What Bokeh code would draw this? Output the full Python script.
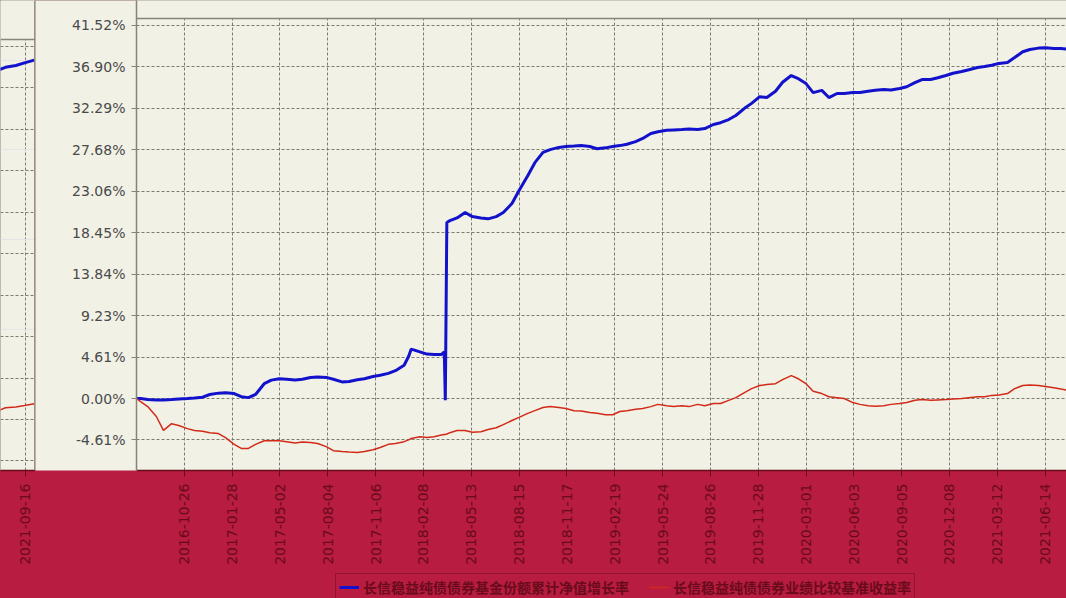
import pandas as pd
from math import pi
from bokeh.plotting import figure
from bokeh.models import (ColumnDataSource, Range1d, FixedTicker, PrintfTickFormatter,
                          DatetimeTickFormatter, Legend, LegendItem, Grid, Span, BoxAnnotation)
from bokeh.layouts import row, column
from bokeh.embed import file_html
from bokeh.resources import INLINE

# ---------------- data ----------------
DATES = [
    "2016-07-24", "2016-08-01", "2016-08-15", "2016-09-01", "2016-09-15", "2016-10-01", "2016-10-15",
    "2016-11-01", "2016-11-15", "2016-12-01", "2016-12-15",
    "2017-01-01", "2017-01-15", "2017-02-01", "2017-02-15", "2017-03-01", "2017-03-15", "2017-04-01",
    "2017-04-15", "2017-05-01", "2017-05-15", "2017-06-01", "2017-06-15", "2017-07-01", "2017-07-15",
    "2017-08-01", "2017-08-15", "2017-09-01", "2017-09-15", "2017-10-01", "2017-10-15", "2017-11-01",
    "2017-11-15", "2017-12-01", "2017-12-15",
    "2018-01-01", "2018-01-10", "2018-01-15", "2018-02-01", "2018-02-15", "2018-03-01", "2018-03-15",
    "2018-03-21", "2018-03-23", "2018-03-26", "2018-04-01", "2018-04-15", "2018-05-01", "2018-05-15",
    "2018-06-01", "2018-06-15", "2018-07-01", "2018-07-15", "2018-08-01", "2018-08-15", "2018-09-01",
    "2018-09-15", "2018-10-01", "2018-10-15", "2018-11-01", "2018-11-15", "2018-12-01", "2018-12-15",
    "2019-01-01", "2019-01-15", "2019-02-01", "2019-02-15", "2019-03-01", "2019-03-15", "2019-04-01",
    "2019-04-15", "2019-05-01", "2019-05-15", "2019-06-01", "2019-06-15", "2019-07-01", "2019-07-15",
    "2019-08-01", "2019-08-15", "2019-09-01", "2019-09-15", "2019-10-01", "2019-10-15", "2019-11-01",
    "2019-11-15", "2019-12-01", "2019-12-15",
    "2020-01-01", "2020-01-15", "2020-02-01", "2020-02-15", "2020-03-01", "2020-03-15", "2020-04-01",
    "2020-04-15", "2020-05-01", "2020-05-15", "2020-06-01", "2020-06-15", "2020-07-01", "2020-07-15",
    "2020-08-01", "2020-08-15", "2020-09-01", "2020-09-15", "2020-10-01", "2020-10-15", "2020-11-01",
    "2020-11-15", "2020-12-01", "2020-12-15",
    "2021-01-01", "2021-01-15", "2021-02-01", "2021-02-15", "2021-03-01", "2021-03-15", "2021-04-01",
    "2021-04-15", "2021-05-01", "2021-05-15", "2021-06-01", "2021-06-15", "2021-07-01", "2021-07-15",
    "2021-08-01", "2021-08-15", "2021-09-01", "2021-09-15", "2021-10-01",
]

FUND = [
    0.00, 0.00, -0.10, -0.15, -0.15, -0.10, -0.05, 0.00, 0.05, 0.15, 0.45,
    0.60, 0.65, 0.55, 0.20, 0.10, 0.45, 1.65, 2.05, 2.20, 2.15, 2.05, 2.15, 2.35, 2.40,
    2.35, 2.15, 1.85, 1.90, 2.10, 2.20, 2.45, 2.60, 2.80, 3.10,
    3.70, 4.70, 5.50, 5.20, 4.95, 4.90, 4.90, 5.20, -0.20, 19.60, 19.80, 20.10, 20.70, 20.25,
    20.10, 20.00, 20.25, 20.70, 21.70, 23.15, 24.80, 26.25, 27.40, 27.70, 27.95, 28.05, 28.10, 28.15,
    28.05, 27.80, 27.90, 28.05, 28.15, 28.30, 28.60, 28.95, 29.50, 29.70, 29.85, 29.90, 29.95, 30.00,
    29.95, 30.05, 30.50, 30.70, 31.05, 31.50, 32.30, 32.85, 33.60, 33.50,
    34.20, 35.20, 35.95, 35.60, 35.05, 34.05, 34.30, 33.50, 33.95, 33.95, 34.05, 34.05, 34.20, 34.30,
    34.40, 34.35, 34.50, 34.70, 35.15, 35.50, 35.50, 35.70, 35.95, 36.20,
    36.40, 36.60, 36.85, 36.95, 37.10, 37.30, 37.40, 37.95, 38.60, 38.85, 39.00, 39.05, 38.95, 38.95,
    38.85, 39.20, 39.40, 39.70, 40.00,
]

BENCH = [
    0.00, -0.35, -0.90, -2.00, -3.55, -2.80, -3.00, -3.35, -3.55, -3.65, -3.80,
    -3.90, -4.35, -5.10, -5.55, -5.55, -5.10, -4.70, -4.70, -4.70, -4.80, -4.95, -4.85, -4.90, -5.00,
    -5.35, -5.80, -5.90, -5.95, -6.00, -5.90, -5.70, -5.45, -5.10, -5.00,
    -4.80, -4.60, -4.45, -4.25, -4.35, -4.25, -4.05, -4.00, -4.00, -3.95, -3.80, -3.55, -3.55, -3.75,
    -3.70, -3.45, -3.25, -2.90, -2.45, -2.10, -1.65, -1.35, -1.00, -0.90, -1.00, -1.10, -1.35, -1.40,
    -1.55, -1.65, -1.80, -1.80, -1.45, -1.35, -1.20, -1.10, -0.90, -0.65, -0.80, -0.90, -0.80, -0.90,
    -0.65, -0.80, -0.55, -0.55, -0.20, 0.10, 0.65, 1.10, 1.45, 1.55,
    1.65, 2.10, 2.55, 2.20, 1.65, 0.80, 0.55, 0.20, 0.10, 0.00, -0.45, -0.65, -0.80, -0.85,
    -0.80, -0.65, -0.55, -0.45, -0.20, -0.10, -0.20, -0.15, -0.10, -0.05,
    0.00, 0.10, 0.20, 0.20, 0.35, 0.40, 0.55, 1.10, 1.45, 1.50, 1.45, 1.35, 1.20, 1.05,
    0.90, 1.30, 1.40, 1.55, 1.75,
]

Y_TICKS = [-4.61, 0.00, 4.61, 9.23, 13.84, 18.45, 23.06, 27.68, 32.29, 36.90, 41.52]
X_TICKS = ["2016-10-26", "2017-01-28", "2017-05-02", "2017-08-04", "2017-11-06", "2018-02-08",
           "2018-05-13", "2018-08-15", "2018-11-17", "2019-02-19", "2019-05-24", "2019-08-26",
           "2019-11-28", "2020-03-01", "2020-06-03", "2020-09-05", "2020-12-08", "2021-03-12",
           "2021-06-14", "2021-09-16", "2021-12-19"]
SERIES_NAMES = ["长信稳益纯债债券基金份额累计净值增长率", "长信稳益纯债债券业绩比较基准收益率"]

MAIN_X = ("2016-07-24", "2021-07-26")
MAIN_Y = (-8.01, 44.30)
TAIL_X = ("2021-08-07", "2021-10-03")
TAIL_Y = (-5.68, 46.64)
PLOT_TOP = 42.30
HIDDEN_Y = (1000, 1001)   # legend strip shows no data, only the legend

# ---------------- styles ----------------
BG = "#F1F1E5"
CRIMSON = "#B81C40"
DARK_RED = "#6A0B1C"
GRID_C = "#7C7C74"
AXIS_C = "#85857D"
BLUE = "#1212CC"
RED = "#D22A18"
LBL = "#4A4A4A"
H = 570

src = ColumnDataSource(dict(date=pd.to_datetime(DATES), fund=FUND, bench=BENCH))
x_ticks_ms = [pd.Timestamp(d).value / 1e6 for d in X_TICKS]


def style_xaxis(ax):
    ax.ticker = FixedTicker(ticks=x_ticks_ms)
    ax.formatter = DatetimeTickFormatter(days="%Y-%m-%d", months="%Y-%m-%d", years="%Y-%m-%d")
    ax.major_label_orientation = pi / 2
    ax.major_label_text_color = DARK_RED
    ax.major_label_text_font = "DejaVu Sans"
    ax.major_label_text_font_size = "14px"
    ax.axis_line_color = DARK_RED
    ax.axis_line_width = 1.5
    ax.major_tick_line_color = DARK_RED
    ax.major_tick_in = 0
    ax.major_tick_out = 6
    ax.minor_tick_line_color = None
    ax.major_label_standoff = 7


def style_grid(g):
    g.grid_line_color = GRID_C
    g.grid_line_dash = "3 2"
    g.grid_line_width = 1


# ---------------- main chart ----------------
p = figure(width=1031, height=H, x_axis_type="datetime",
           x_range=Range1d(pd.Timestamp(MAIN_X[0]), pd.Timestamp(MAIN_X[1])),
           y_range=Range1d(*MAIN_Y),
           output_backend="svg", toolbar_location=None)
p.min_border_top = 0
p.min_border_right = 0
p.min_border_left = 100
p.min_border_bottom = 100
p.background_fill_color = BG
p.border_fill_color = CRIMSON
p.outline_line_color = None

p.xgrid.ticker = FixedTicker(ticks=x_ticks_ms)
p.ygrid.ticker = FixedTicker(ticks=Y_TICKS)
style_grid(p.xgrid)
style_grid(p.ygrid)
p.add_layout(BoxAnnotation(bottom=PLOT_TOP, fill_color=BG, fill_alpha=1.0, line_color=None,
                           level="underlay"))
p.add_layout(Span(location=PLOT_TOP, dimension="width", line_color=AXIS_C, line_width=1.5))

p.line("date", "fund", source=src, line_color=BLUE, line_width=3)
p.line("date", "bench", source=src, line_color=RED, line_width=1.5)

style_xaxis(p.xaxis[0])

ya = p.yaxis[0]
ya.ticker = FixedTicker(ticks=Y_TICKS)
ya.formatter = PrintfTickFormatter(format="%.2f%%")
ya.background_fill_color = BG
ya.major_label_text_color = LBL
ya.major_label_text_font = "DejaVu Sans"
ya.major_label_text_font_size = "14px"
ya.axis_line_color = AXIS_C
ya.axis_line_width = 1.5
ya.major_tick_line_color = AXIS_C
ya.major_tick_in = 0
ya.major_tick_out = 5
ya.minor_tick_line_color = None
ya.major_label_standoff = 6
ya.axis_label = " "
ya.axis_label_text_font_size = "20px"
ya.axis_label_standoff = 9

# ---------------- wrapped tail strip on the left ----------------
lf = figure(width=35, height=H, x_axis_type="datetime",
            x_range=Range1d(pd.Timestamp(TAIL_X[0]), pd.Timestamp(TAIL_X[1])),
            y_range=Range1d(*TAIL_Y), y_axis_location=None,
            output_backend="svg", toolbar_location=None)
lf.min_border_top = 0
lf.min_border_left = 0
lf.min_border_right = 0
lf.min_border_bottom = 100
lf.background_fill_color = BG
lf.border_fill_color = CRIMSON
lf.outline_line_color = None
lf.xgrid.ticker = FixedTicker(ticks=x_ticks_ms)
style_grid(lf.xgrid)
yg = Grid(dimension=1, ticker=FixedTicker(ticks=Y_TICKS))
style_grid(yg)
lf.add_layout(yg)
lf.add_layout(BoxAnnotation(bottom=PLOT_TOP, fill_color=BG, fill_alpha=1.0, line_color=None,
                            level="underlay"))
lf.add_layout(Span(location=PLOT_TOP, dimension="width", line_color=AXIS_C, line_width=1.5))
lf.line("date", "fund", source=src, line_color=BLUE, line_width=3)
lf.line("date", "bench", source=src, line_color=RED, line_width=1.5)
style_xaxis(lf.xaxis[0])
lf.add_layout(Span(location=pd.Timestamp(TAIL_X[1]).value / 1e6 - 3600000 * 24,
                   dimension="height", line_color=AXIS_C, line_width=1.5))

# ---------------- legend strip (crimson band at the bottom) ----------------
lg = figure(width=1066, height=28,
            x_range=Range1d(pd.Timestamp(MAIN_X[0]), pd.Timestamp(MAIN_X[1])),
            y_range=Range1d(*HIDDEN_Y),
            x_axis_location=None, y_axis_location=None,
            output_backend="svg", toolbar_location=None)
lg.min_border_top = 0
lg.min_border_bottom = 0
lg.min_border_right = 0
lg.min_border_left = 135
lg.background_fill_color = CRIMSON
lg.border_fill_color = CRIMSON
lg.outline_line_color = None
lg.grid.grid_line_color = None
lg.grid.visible = False
g_fund = lg.line("date", "fund", source=src, line_color=BLUE, line_width=3)
g_bench = lg.line("date", "bench", source=src, line_color=RED, line_width=1.5)

legend = Legend(items=[LegendItem(label=SERIES_NAMES[0], renderers=[g_fund]),
                       LegendItem(label=SERIES_NAMES[1], renderers=[g_bench])],
                orientation="horizontal", location=(200, -3), margin=0, padding=3,
                spacing=20, glyph_width=20, glyph_height=14, label_standoff=4,
                background_fill_color=CRIMSON, background_fill_alpha=1.0,
                border_line_color=DARK_RED, border_line_width=1.5,
                label_text_color=DARK_RED, label_text_font="Noto Sans CJK SC",
                label_text_font_size="14px", label_text_font_style="bold")
lg.add_layout(legend)

layout = column(row(lf, p), lg)
layout.styles = {"background": "linear-gradient(to bottom, %s 470px, %s 470px)" % (AXIS_C, CRIMSON)}
open("out.html", "w").write(file_html(layout, INLINE))
